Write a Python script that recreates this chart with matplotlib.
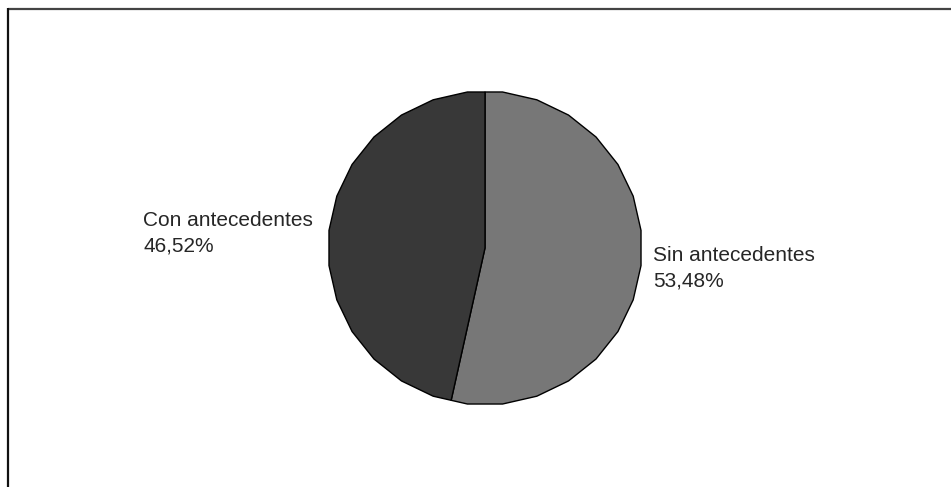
import matplotlib.pyplot as plt
import numpy as np

labels = ["Sin antecedentes", "Con antecedentes"]
shares = [53.48, 46.52]
pct_text = ["53,48%", "46,52%"]
colors = ["#777777", "#383838"]

# layout in pixel units (y grows downward)
CX, CY, R = 485, 248, 157
SIDES = 28
STEP = 360 / SIDES


def edge_point(theta):
    """Point on the faceted pie outline, theta in degrees clockwise from top."""
    k = np.round(theta / STEP)
    local = np.radians(theta - k * STEP)
    r = R * np.cos(np.radians(STEP / 2)) / np.cos(local)
    t = np.radians(theta)
    return CX + r * np.sin(t), CY - r * np.cos(t)


def wedge_outline(a, b):
    pts = [(CX, CY), edge_point(a)]
    verts = np.arange(STEP / 2, 360, STEP)
    for v in verts[(verts > a) & (verts < b)]:
        pts.append(edge_point(v))
    pts.append(edge_point(b))
    return np.array(pts)


fig = plt.figure(figsize=(9.51, 4.87), dpi=100)
ax = fig.add_axes([0, 0, 1, 1])
ax.set_xlim(0, 951)
ax.set_ylim(487, 0)
ax.axis("off")

start = 0.0
for share, color in zip(shares, colors):
    end = start + share / sum(shares) * 360
    pts = wedge_outline(start, end)
    ax.fill(pts[:, 0], pts[:, 1], facecolor=color, edgecolor="black", linewidth=1.0)
    start = end

# labels
font = dict(family="Liberation Sans", fontsize=15, color="#262626", linespacing=1.42)
ax.text(653, 246, f"{labels[0]}\n{pct_text[0]}", ha="left", va="top", **font)
ax.text(143, 211, f"{labels[1]}\n{pct_text[1]}", ha="left", va="top", **font)

# chart frame (top and left only)
ax.plot([8, 951], [8.5, 8.5], color="#444444", linewidth=1.6, solid_capstyle="butt")
ax.plot([8, 8], [8, 487], color="#111111", linewidth=1.6, solid_capstyle="butt")

fig.savefig("out.png", dpi=100)
